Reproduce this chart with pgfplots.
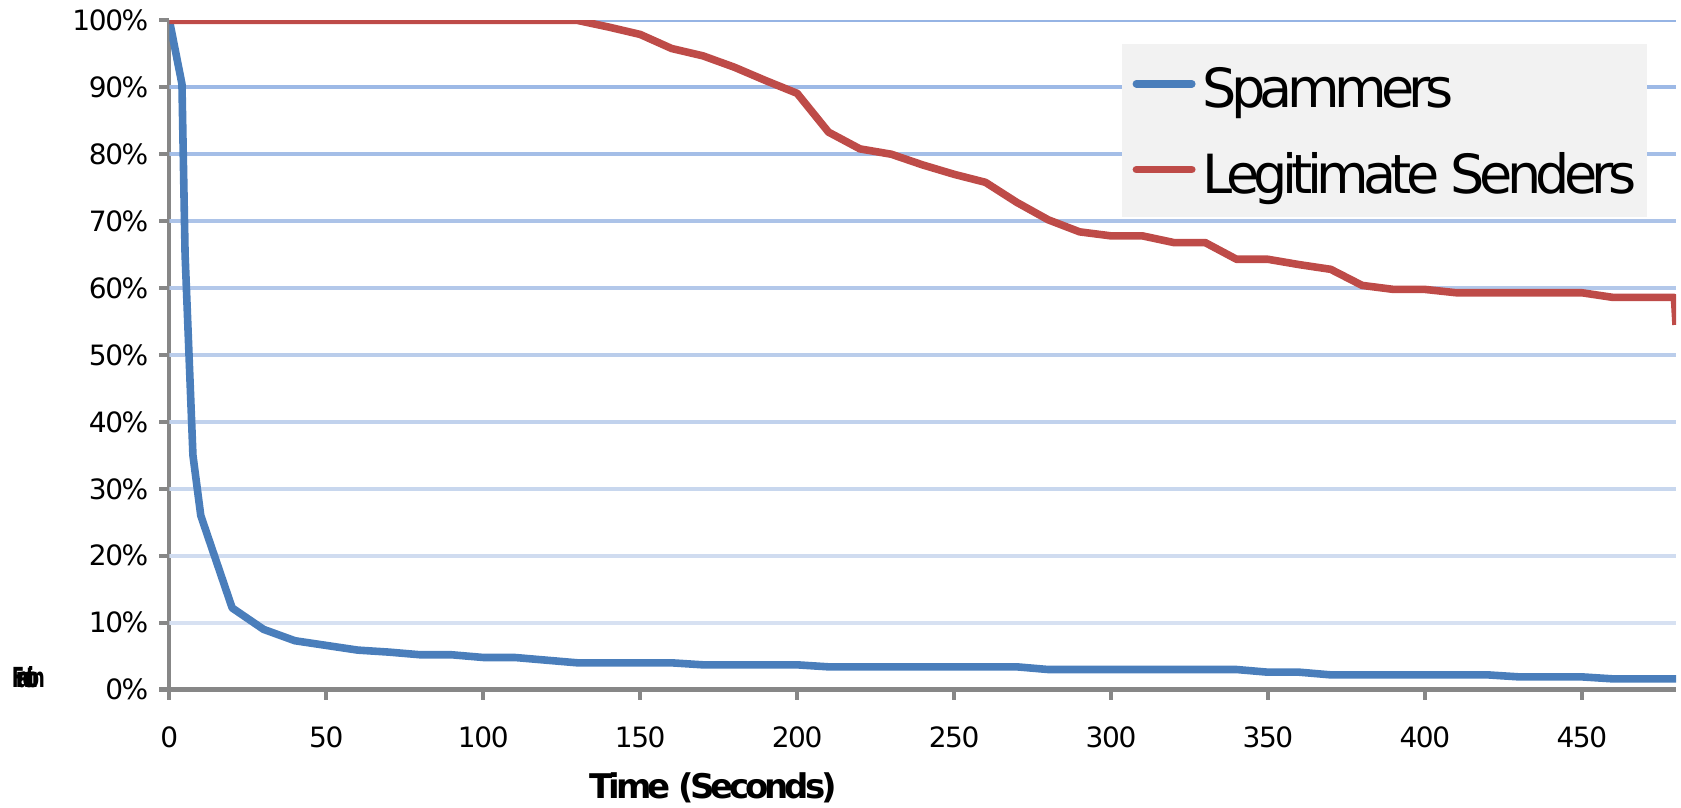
\documentclass[border=0pt]{standalone}
\usepackage{pgfplots}
\pgfplotsset{compat=1.18}
\usepackage{fontspec}
\setmainfont{DejaVu Sans}
\newfontfamily\tickfont{DejaVu Sans}[LetterSpace=-5]
\newfontfamily\legfont{DejaVu Sans}[LetterSpace=-10.5]
\newfontfamily\labfont{DejaVu Sans}[LetterSpace=-12]
\newfontfamily\blobfont{DejaVu Sans}[LetterSpace=-40]
\definecolor{sblue}{HTML}{4A7EBB}
\definecolor{lred}{HTML}{BE4B48}
\definecolor{axgray}{HTML}{878787}
\definecolor{gridtop}{RGB}{150,180,228}
\definecolor{gridbot}{RGB}{222,230,243}
\definecolor{legbg}{HTML}{F2F2F2}

\pgfplotstableread{
x y
0 100
4 90.5
5 65
7.5 35
10 26
20 12.2
30 9.0
40 7.3
50 6.6
60 5.9
70 5.6
80 5.2
90 5.2
100 4.8
110 4.8
120 4.4
130 4.0
140 4.0
150 4.0
160 4.0
170 3.7
180 3.7
190 3.7
200 3.7
210 3.4
220 3.4
230 3.4
240 3.4
250 3.4
260 3.4
270 3.4
280 3.0
290 3.0
300 3.0
310 3.0
320 3.0
330 3.0
340 3.0
350 2.6
360 2.6
370 2.2
380 2.2
390 2.2
400 2.2
410 2.2
420 2.2
430 1.9
440 1.9
450 1.9
460 1.6
470 1.6
480 1.6
}\spammers

\pgfplotstableread{
x y
0 100
10 100
20 100
30 100
40 100
50 100
60 100
70 100
80 100
90 100
100 100
110 100
120 100
130 100
140 99
150 97.9
160 95.8
170 94.7
180 93
190 91
200 89.1
210 83.3
220 80.8
230 80
240 78.4
250 77
260 75.8
270 72.8
280 70.2
290 68.4
300 67.8
310 67.8
320 66.8
330 66.8
340 64.3
350 64.3
360 63.5
370 62.8
380 60.4
390 59.8
400 59.8
410 59.3
420 59.3
430 59.3
440 59.3
450 59.3
460 58.6
470 58.6
479.5 58.6
480 54.5
}\legit

\begin{document}
\begin{tikzpicture}
\path[use as bounding box] (-84.7pt,-58.75pt) rectangle (755.8pt,344.8pt);
\begin{axis}[
  at={(0,0)}, anchor=south west,
  scale only axis, width=753.3pt, height=334.6pt,
  xmin=0, xmax=480, ymin=0, ymax=100,
  axis lines=left,
  axis line style={-, draw=axgray, line width=2.1pt},
  tick align=outside, major tick length=5pt,
  tick style={axgray, line width=2.1pt},
  xtick={0,50,...,450}, ytick={0,10,...,100},
  /pgf/number format/assume math mode=true,
  tick label style={font=\tickfont\fontsize{14}{16}\selectfont, text=black},
  yticklabel={\pgfmathprintnumber{\tick}\%},
  yticklabel style={anchor=east, xshift=-2pt},
  xticklabel style={anchor=north, yshift=-10pt},
  xlabel={Time (Seconds)},
  every axis x label/.style={at={(rel axis cs:0.361,0)}, anchor=base, yshift=-54.25pt,
     font=\labfont\bfseries\fontsize{17}{19}\selectfont},
  legend style={
    at={(rel axis cs:0.632,0.9647)}, anchor=north west,
    draw=none, fill=legbg, inner xsep=5.3pt, inner ysep=3pt,
    font=\legfont\fontsize{27}{30}\selectfont,
    row sep=5.5pt,
    nodes={inner sep=0pt, text height=28.6pt, text depth=8.8pt},
    /tikz/every odd column/.append style={column sep=3.5pt},
    cells={anchor=west},
  },
  legend image code/.code={\draw[#1, line width=3.8pt, line cap=round] (1.9pt,2pt) -- (29.6pt,2pt);},
]
\pgfplotsinvokeforeach{10,20,...,100}{
  \draw[line width=2pt, color=gridtop!#1!gridbot] (axis cs:0,#1) -- (axis cs:480,#1);
}
\addplot[sblue, line width=3.8pt, line join=round] table[x=x,y=y] {\spammers};
\addplot[lred, line width=3.8pt, line join=round] table[x=x,y=y] {\legit};
\legend{Spammers, Legitimate Senders}
\end{axis}
\node[inner sep=0pt] at (-70.5pt,6.3pt) {\resizebox{16.5pt}{10.5pt}{\blobfont\bfseries\fontsize{14}{14}\selectfont Fraction}};
\end{tikzpicture}
\end{document}
